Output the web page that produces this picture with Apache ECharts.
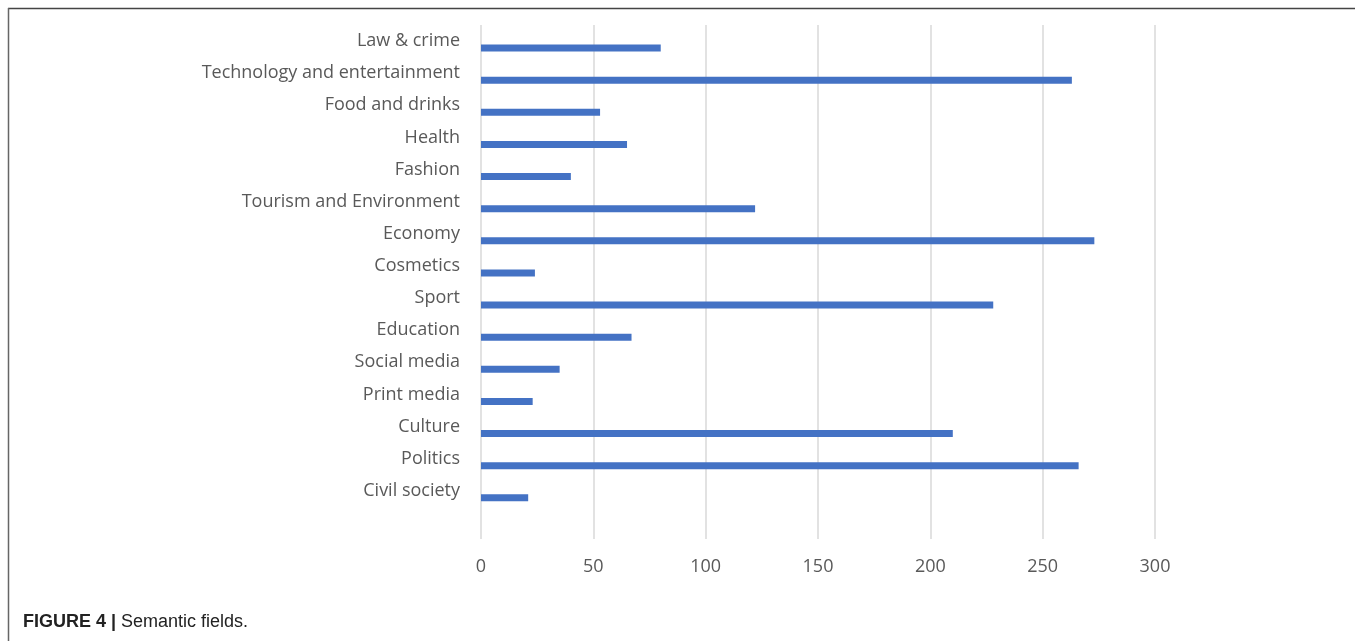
<!DOCTYPE html>
<html>
<head>
<meta charset="utf-8">
<script src="https://cdn.jsdelivr.net/npm/echarts@6/dist/echarts.min.js"></script>
<style>
html,body{margin:0;padding:0;background:#fff;}
#chart{width:1355px;height:641px;}
</style>
</head>
<body>
<div id="chart"></div>
<script>
const categories = ['Law & crime','Technology and entertainment','Food and drinks','Health','Fashion','Tourism and Environment','Economy','Cosmetics','Sport','Education','Social media','Print media','Culture','Politics','Civil society',''];
const values = [80,263,53,65,40,122,273,24,228,67,35,23,210,266,21,null];
const xTicks = [0,50,100,150,200,250,300];
const captionBold = 'FIGURE 4 | ';
const captionText = 'Semantic fields.';

const chart = echarts.init(document.getElementById('chart'), null, {renderer:'canvas'});
const font = '"Open Sans", Lato, sans-serif';
chart.setOption({
  animation:false,
  grid:{left:481, right:200, top:25, height:514, containLabel:false},
  xAxis:{
    type:'value', min:xTicks[0], max:xTicks[xTicks.length-1], interval:50,
    axisLine:{show:false}, axisTick:{show:false},
    splitLine:{show:true, lineStyle:{color:'#d9d9d9', width:1.5}},
    axisLabel:{color:'#595959', fontSize:18, fontFamily:font, margin:19}
  },
  yAxis:{
    type:'category', data:categories, inverse:true,
    axisLine:{show:false}, axisTick:{show:false},
    axisLabel:{color:'#595959', fontSize:18, fontFamily:font, margin:21}
  },
  series:[
    {type:'bar', data:categories.map(()=>null), barWidth:7, barGap:'100%'},
    {type:'bar', data:values, barWidth:7, barGap:'100%', itemStyle:{color:'#4472C4'}}
  ],
  graphic:[
    {type:'line', shape:{x1:8,y1:8.5,x2:1355,y2:8.5}, style:{stroke:'#444',lineWidth:1.5}},
    {type:'line', shape:{x1:8.5,y1:8,x2:8.5,y2:641}, style:{stroke:'#666',lineWidth:1.5}},
    {type:'text', left:23, top:613, style:{
      rich:{b:{fontWeight:'bold', fontSize:18, fontFamily:'"Liberation Sans", Arial, sans-serif', fill:'#222'},
            n:{fontSize:18, fontFamily:'"Liberation Sans", Arial, sans-serif', fill:'#222'}},
      text:'{b|'+captionBold+'}{n|'+captionText+'}'
    }}
  ]
});
</script>
</body>
</html>
